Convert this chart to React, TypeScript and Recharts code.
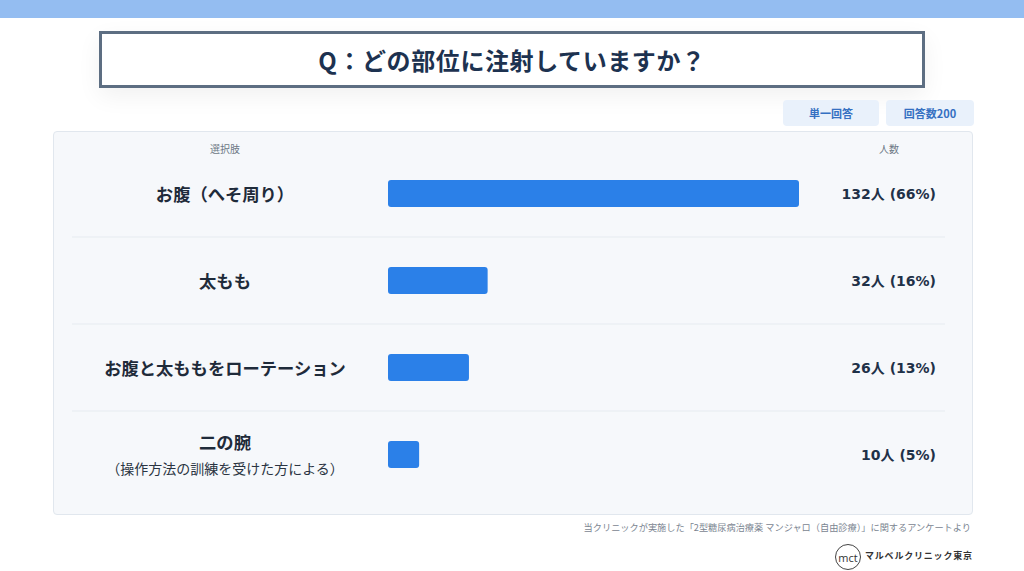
import React from "react";
import { BarChart, Bar, XAxis, YAxis } from "recharts";

const categories = ["お腹（へそ周り）", "太もも", "お腹と太ももをローテーション", "二の腕"];
const subLabels = ["", "", "", "（操作方法の訓練を受けた方による）"];
const counts = [132, 32, 26, 10];
const percents = [66, 16, 13, 5];

const data = categories.map((name, i) => ({
  name,
  sub: subLabels[i],
  count: counts[i],
  pct: percents[i],
}));

const FONT = "'Noto Sans CJK JP', 'Noto Sans', sans-serif";
const NUM_FONT = "'DejaVu Sans', 'Noto Sans CJK JP', sans-serif";
const CHART_W = 920;
const CHART_H = 384;
const M_TOP = 19;
const M_BOTTOM = 17;
const BAND = (CHART_H - M_TOP - M_BOTTOM) / categories.length;

const LeftTick = (props: any) => {
  const { y, payload, index } = props;
  const i = payload.index ?? index;
  const d = data[i];
  const cx = 172;
  const isLast = i === categories.length - 1;
  return (
    <g>
      {!isLast && (
        <line x1={19} x2={892} y1={y + BAND / 2} y2={y + BAND / 2} stroke="#e6ebf0" strokeWidth={1} />
      )}
      {d.sub ? (
        <>
          <text x={cx} y={y - 13} textAnchor="middle" dominantBaseline="central" fontFamily={FONT} fontWeight={700} fontSize={17.3} fill="#1f2b3a">
            {d.name}
          </text>
          <text x={cx} y={y + 13} textAnchor="middle" dominantBaseline="central" fontFamily={FONT} fontWeight={400} fontSize={14} fill="#2a3442">
            {d.sub}
          </text>
        </>
      ) : (
        <text x={cx} y={y} textAnchor="middle" dominantBaseline="central" fontFamily={FONT} fontWeight={700} fontSize={17.3} fill="#1f2b3a">
          {d.name}
        </text>
      )}
    </g>
  );
};

const RightTick = (props: any) => {
  const { y, payload, index } = props;
  const d = data[payload.index ?? index];
  return (
    <text x={883} y={y} textAnchor="end" dominantBaseline="central" fontFamily={NUM_FONT} fontWeight={700} fontSize={14} fill="#1f3148">
      {`${d.count}人 (${d.pct}%)`}
    </text>
  );
};

export default function App() {
  return (
    <div style={{ position: "absolute", left: 0, top: 0, width: 1024, height: 571, background: "#ffffff", overflow: "hidden", fontFamily: FONT }}>
      <div style={{ position: "absolute", left: 0, top: 0, width: 1024, height: 18, background: "#94bdf1" }} />
      <div
        style={{
          position: "absolute",
          left: 99,
          top: 31,
          width: 820,
          height: 51,
          border: "3px solid #5d6e82",
          background: "#ffffff",
          boxShadow: "0 8px 24px rgba(0,0,0,0.06)",
          display: "flex",
          alignItems: "center",
          justifyContent: "center",
          fontSize: 24,
          fontWeight: 700,
          color: "#1d3250",
          letterSpacing: 0.6,
        }}
      >
        Q：どの部位に注射していますか？
      </div>
      <div style={{ position: "absolute", left: 783, top: 100, width: 96, height: 26, borderRadius: 4, background: "#e9f1fb", color: "#3570c2", fontSize: 11, fontWeight: 700, display: "flex", alignItems: "center", justifyContent: "center" }}>
        単一回答
      </div>
      <div style={{ position: "absolute", left: 886, top: 100, width: 88, height: 26, borderRadius: 4, background: "#e9f1fb", color: "#3570c2", fontSize: 11, fontWeight: 700, display: "flex", alignItems: "center", justifyContent: "center" }}>
        回答数200
      </div>
      <div style={{ position: "absolute", left: 53, top: 131, width: CHART_W - 2, height: CHART_H - 2, border: "1px solid #e1e7ee", borderRadius: 4, background: "#f6f8fb" }} />
      <div style={{ position: "absolute", left: 195, top: 141, width: 60, textAlign: "center", fontSize: 10, color: "#6d7885" }}>選択肢</div>
      <div style={{ position: "absolute", left: 859, top: 141, width: 60, textAlign: "center", fontSize: 10, color: "#6d7885" }}>人数</div>
      <div style={{ position: "absolute", left: 53, top: 131 }}>
        <BarChart
          width={CHART_W}
          height={CHART_H}
          data={data}
          layout="vertical"
          margin={{ top: M_TOP, bottom: M_BOTTOM, left: 0, right: 0 }}
          barCategoryGap={0}
        >
          <XAxis type="number" dataKey="count" domain={[0, 132]} hide />
          <YAxis yAxisId="left" type="category" dataKey="name" width={335} axisLine={false} tickLine={false} tick={<LeftTick />} interval={0} />
          <YAxis yAxisId="right" orientation="right" type="category" dataKey="name" width={174} axisLine={false} tickLine={false} tick={<RightTick />} interval={0} />
          <Bar yAxisId="left" dataKey="count" fill="#2b80e8" barSize={27} radius={3} isAnimationActive={false} />
        </BarChart>
      </div>
      <div style={{ position: "absolute", right: 53, top: 520, fontSize: 9.2, color: "#7b8591", whiteSpace: "nowrap" }}>
        当クリニックが実施した「2型糖尿病治療薬 マンジャロ（自由診療）」に関するアンケートより
      </div>
      <div style={{ position: "absolute", left: 835, top: 544, width: 24, height: 24, borderRadius: "50%", border: "1px solid #444", display: "flex", alignItems: "center", justifyContent: "center", fontSize: 11, color: "#333", fontFamily: "'Open Sans', sans-serif" }}>
        mct
      </div>
      <div style={{ position: "absolute", left: 865, top: 549, fontSize: 9, fontWeight: 700, color: "#333", letterSpacing: 0.8, whiteSpace: "nowrap" }}>
        マルベルクリニック東京
      </div>
    </div>
  );
}
